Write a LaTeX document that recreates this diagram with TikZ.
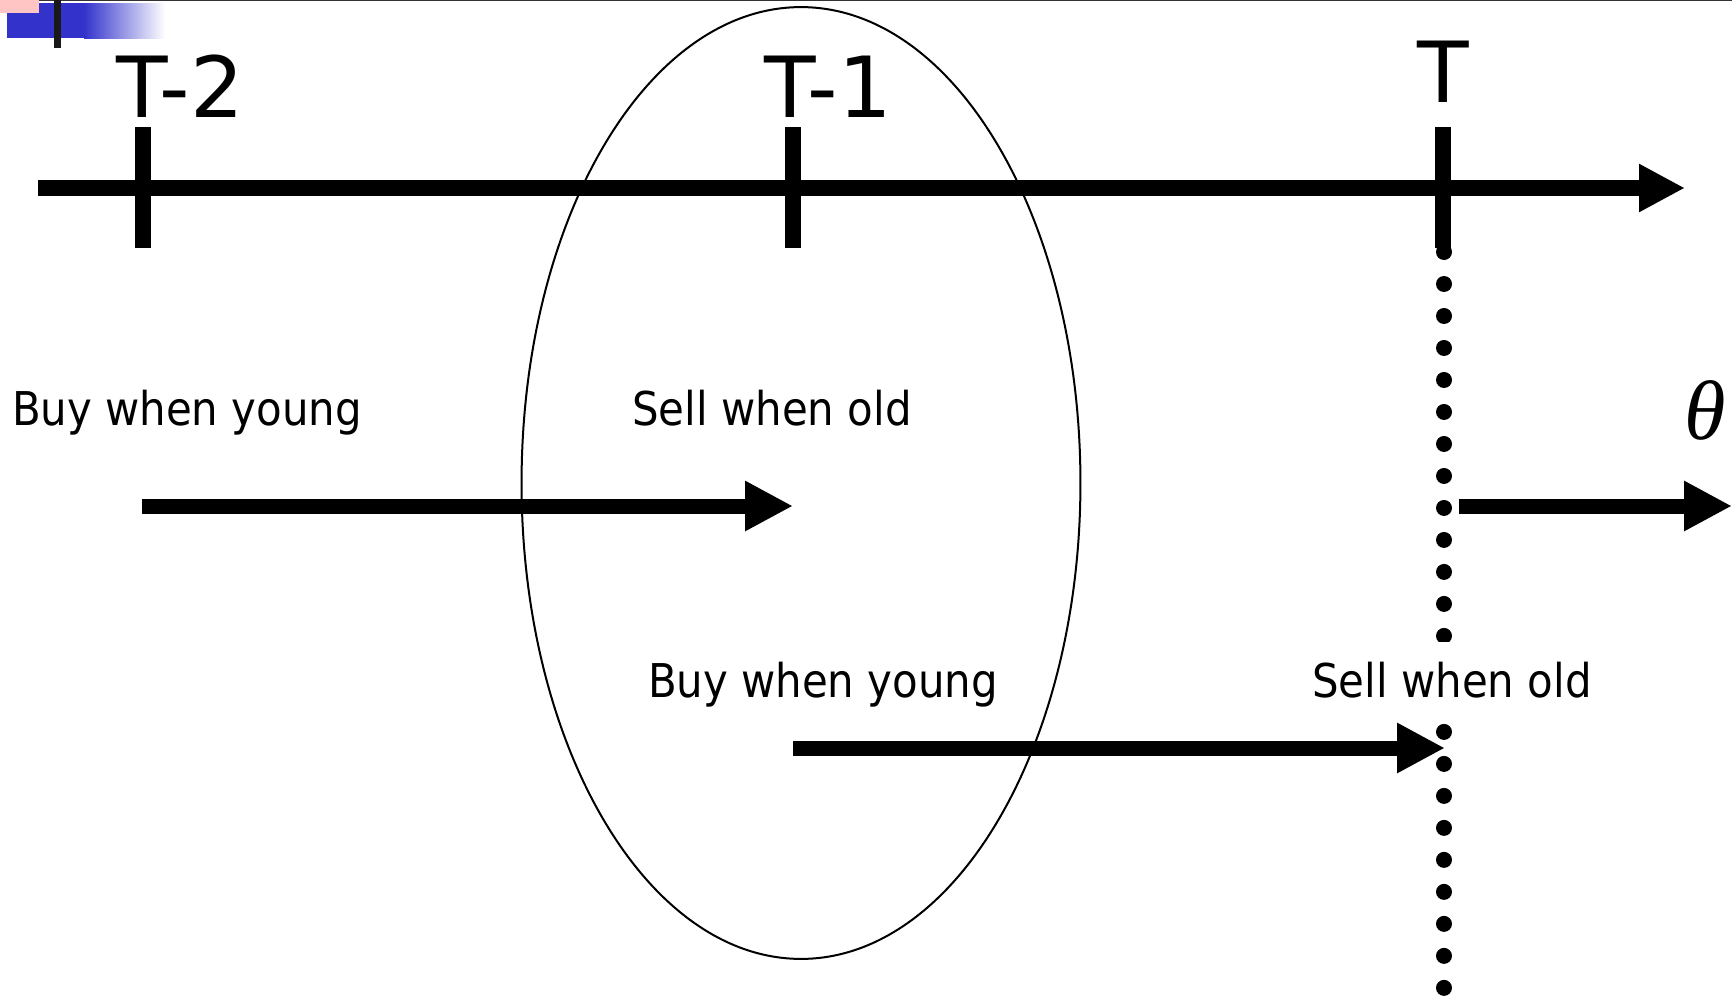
\documentclass[tikz,border=0pt]{standalone}
\usepackage{fontspec}
\setmainfont{DejaVu Sans Condensed}
\newfontfamily\periodfont{DejaVu Sans}
\newfontfamily\thetafont{Liberation Serif}
\usetikzlibrary{arrows.meta, positioning}
\definecolor{slideblue}{HTML}{3333CC}
\definecolor{slidepink}{HTML}{FFC4C4}
\definecolor{rulegray}{HTML}{333333}

\begin{document}
\begin{tikzpicture}[x=0.02cm, y=-0.02cm,
  axisline/.style={line width=0.32cm},
  tickmark/.style={line width=0.32cm},
  flow/.style={line width=0.3cm, -{Triangle[length=0.96cm, width=0.94cm]}},
  period/.style={font=\periodfont\fontsize{48}{56}\selectfont, anchor=base, inner sep=0pt},
  deal/.style={font=\fontsize{26.5}{32}\selectfont, anchor=base, fill=white, inner sep=0.4cm},
  gapline/.style={line width=0.32cm, line cap=round, dash pattern=on 0pt off 0.64cm}
]

\useasboundingbox (0,0) rectangle (1732,998);

% Slide corner
\draw[rulegray, line width=0.03cm] (0,0.5) -- (1732,0.5);
\fill[slideblue] (7,3) rectangle (84,38);
\shade[left color=slideblue, right color=white] (84,3) rectangle (165,38);
\fill[slidepink] (0,0) rectangle (39,13);
\fill[black!90] (54,0) rectangle (61,48);

% Time axis
\coordinate (axstart) at (38,188);
\coordinate (axend) at (1685,188);
\draw[axisline, -{Triangle[length=0.92cm, width=0.9cm]}] (axstart) -- (axend);

% Ticks
\foreach \x/\name in {143/t2, 793/t1, 1443/t0} {
  \coordinate (\name) at (\x,188);
  \draw[tickmark] (\x,127) -- (\x,248);
}

% Tick labels
\node[period] (lblT2) at (180,117) {T-2};
\node[period] (lblT1) at (828,117) {T-1};
\node[period] (lblT)  at (1443,102) {T};

% Dotted line below T
\coordinate (dotstart) at (1444,252);
\coordinate (dotend) at (1444,1000);
\draw[gapline] (dotstart) -- (dotend);

% Generations
\node[deal] (buyA)  at (187,425) {Buy when young};
\node[deal] (sellA) at (772,425) {Sell when old};
\node[deal] (buyB)  at (823,697) {Buy when young};
\node[deal] (sellB) at (1452,697) {Sell when old};

\coordinate (buyAend)  at (142,506);
\coordinate (sellAend) at (793,506);
\coordinate (buyBend)  at (793,748);
\coordinate (sellBend) at (1445,748);
\draw[flow] (buyAend) -- (sellAend);
\draw[flow] (buyBend) -- (sellBend);

% Theta
\node[inner sep=0pt] (theta) at (1705,410) {\thetafont\itshape\fontsize{48}{50}\selectfont θ};
\coordinate (thstart) at (1459,506);
\coordinate (thend) at (1732,506);
\draw[flow] (thstart) -- (thend);

% Ellipse
\draw[line width=0.04cm] (801,483) ellipse [x radius=5.59cm, y radius=9.52cm];

\end{tikzpicture}
\end{document}
